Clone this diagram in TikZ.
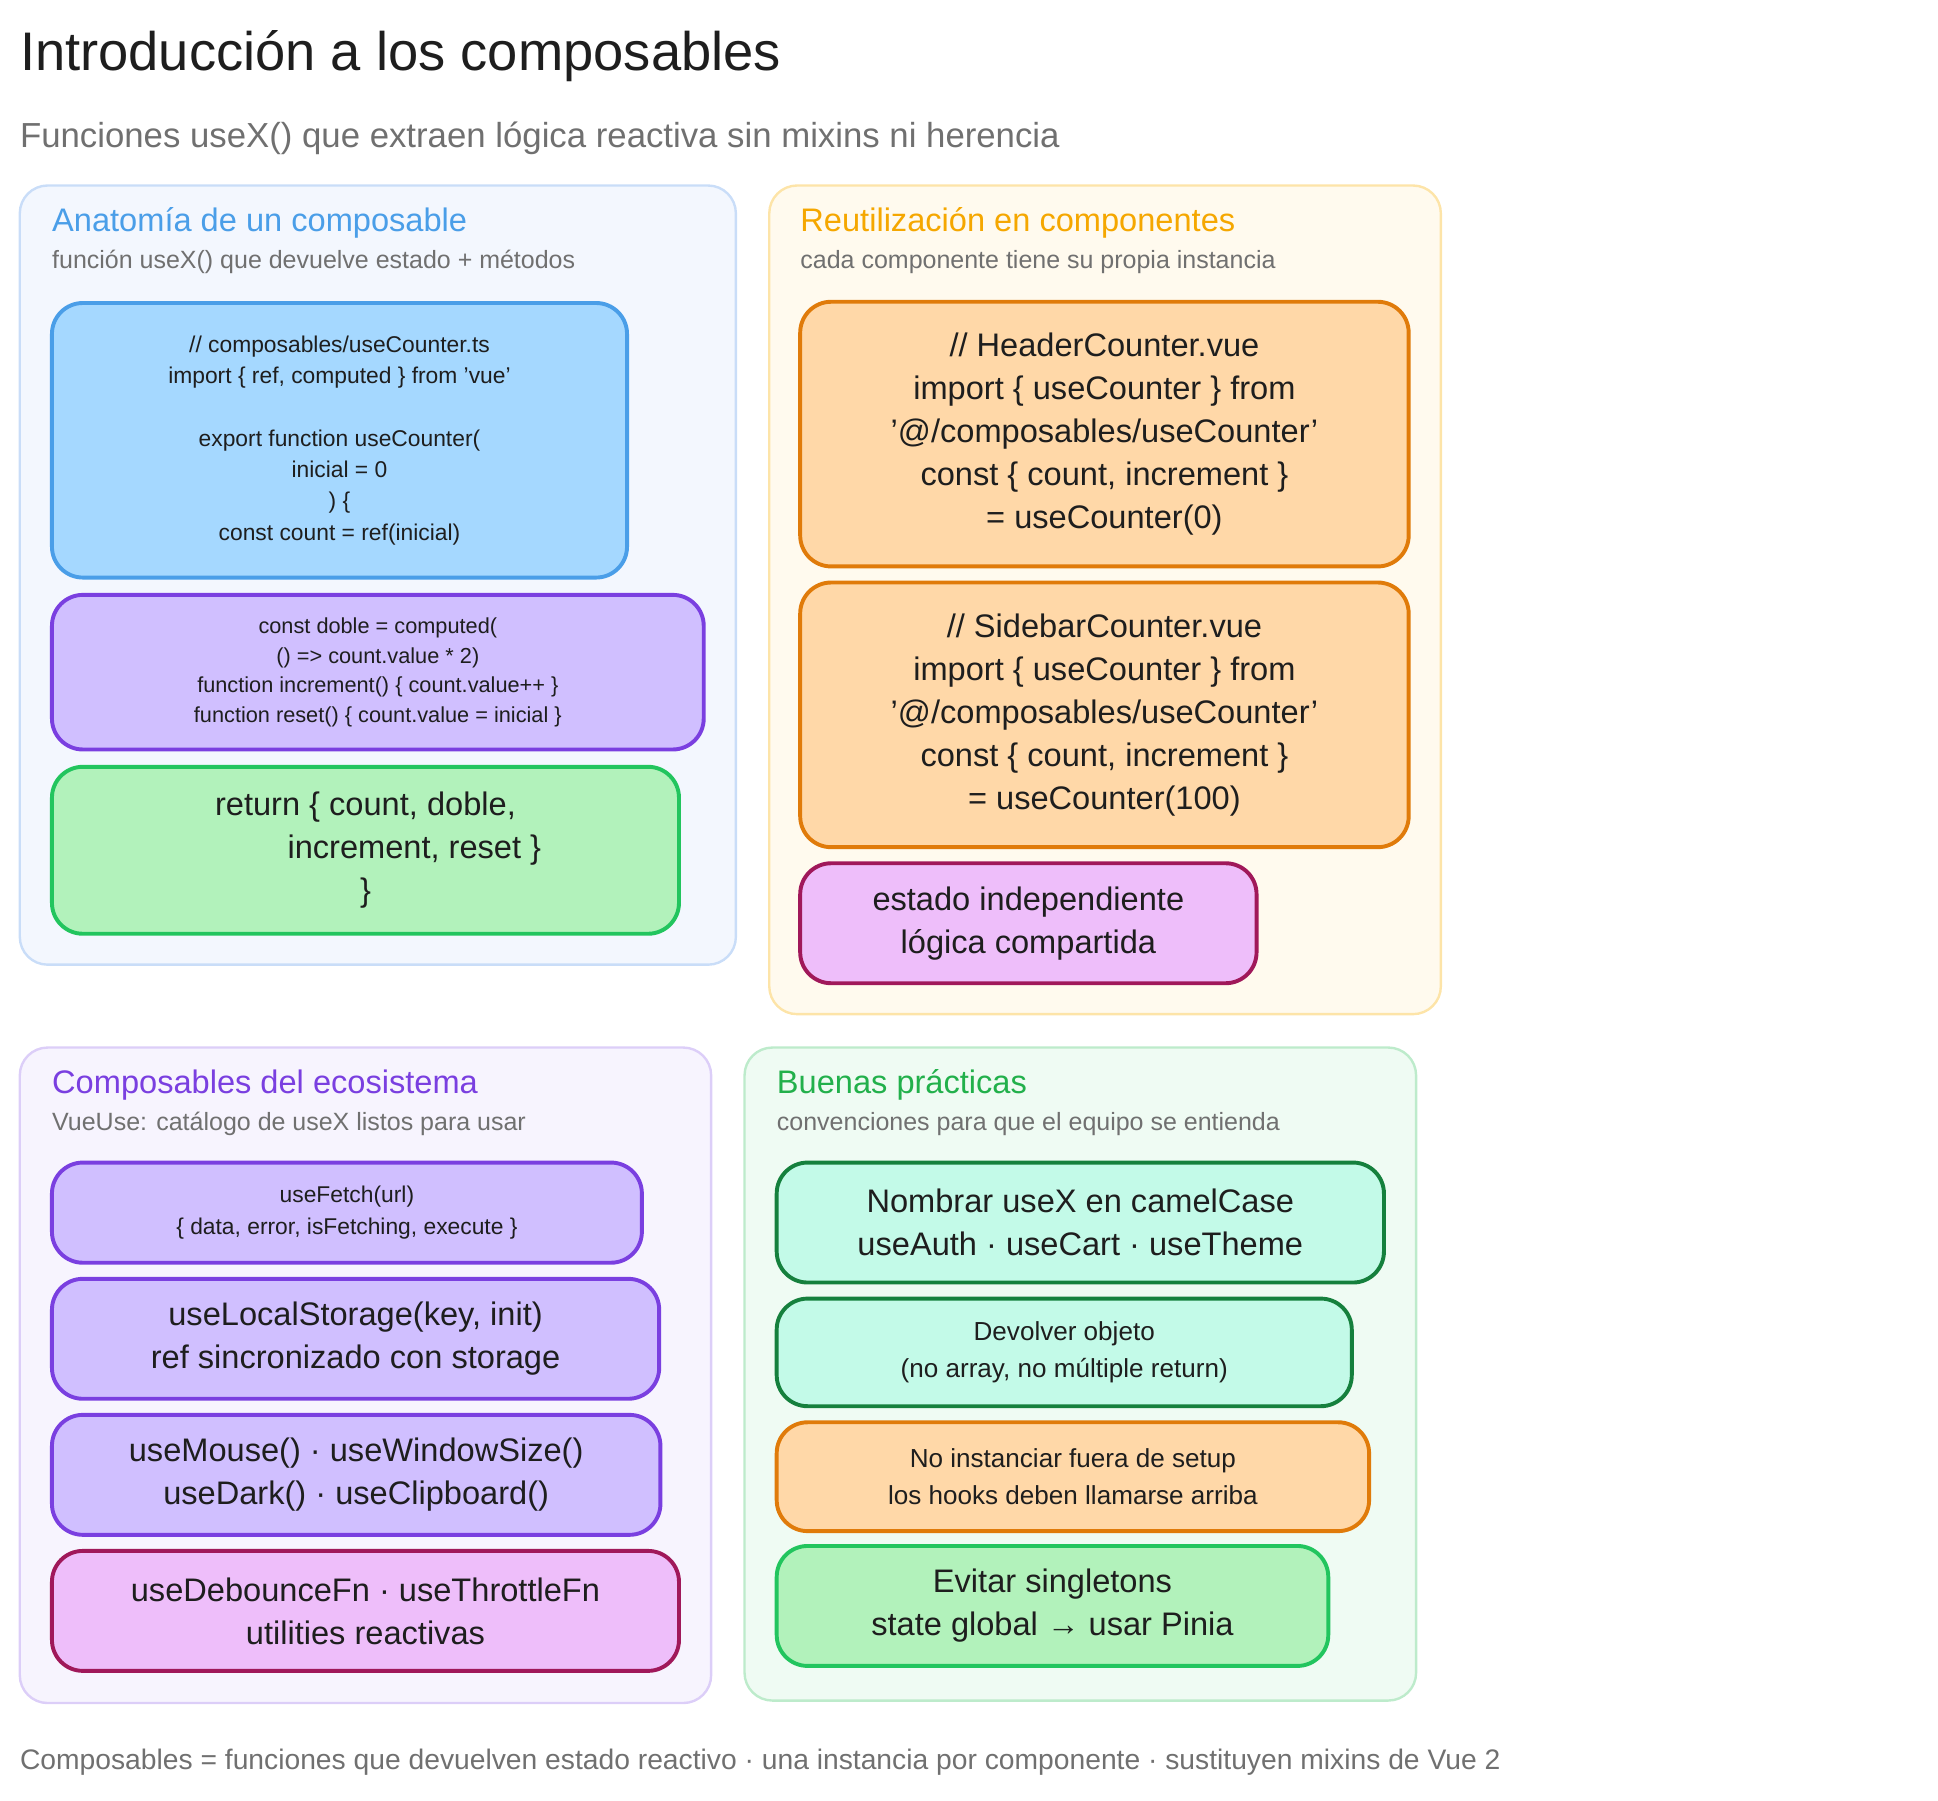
\documentclass[tikz,border=0pt]{standalone}
\usepackage{fontspec}
\setmainfont{Liberation Sans}
\usetikzlibrary{calc}
\definecolor{inkc}{HTML}{1E1E1E}
\definecolor{grayc}{HTML}{707070}
\definecolor{pblue}{HTML}{F3F7FE}\definecolor{pblueb}{HTML}{C9DDF8}
\definecolor{pamber}{HTML}{FFFAEE}\definecolor{pamberb}{HTML}{FDE4A8}
\definecolor{ppurp}{HTML}{F7F4FE}\definecolor{ppurpb}{HTML}{DCCEF8}
\definecolor{pgreen}{HTML}{EFFBF3}\definecolor{pgreenb}{HTML}{BDEBCB}
\definecolor{cblue}{HTML}{A5D8FF}\definecolor{cblueb}{HTML}{4A9EE8}
\definecolor{cpurp}{HTML}{D0BFFF}\definecolor{cpurpb}{HTML}{7A3FE0}
\definecolor{cgreen}{HTML}{B2F2BB}\definecolor{cgreenb}{HTML}{22C55E}
\definecolor{corange}{HTML}{FFD8A8}\definecolor{corangeb}{HTML}{E07B0A}
\definecolor{cpink}{HTML}{EEBEFA}\definecolor{cpinkb}{HTML}{A0185A}
\definecolor{cteal}{HTML}{C3FAE8}\definecolor{ctealb}{HTML}{15803D}
\definecolor{tamber}{HTML}{F5A700}\definecolor{tgreen}{HTML}{22B04B}
% box with a text node in its middle
\newcommand{\card}[8]{%
  \draw[#6] (#2,#3) rectangle (#4,#5);
  \node[cardtext, #7] (#1) at ($(#2,#3)!.5!(#4,#5)$) {#8};}
\begin{document}
\begin{tikzpicture}[x=0.02cm,y=-0.02cm,
  panel/.style={rounded corners=0.45cm, line width=1.1pt},
  boxc/.style={rounded corners=0.5cm, line width=1.8pt},
  cardtext/.style={align=center, text=inkc},
  big/.style={font=\fontsize{15}{19.8}\selectfont},
  mid/.style={font=\fontsize{12}{17}\selectfont},
  small/.style={font=\fontsize{10.5}{14.4}\selectfont},
  ptitle/.style={anchor=west, font=\fontsize{15}{18}\selectfont},
  psub/.style={anchor=west, text=grayc, font=\fontsize{11.5}{14}\selectfont}]
\useasboundingbox (0,0) rectangle (1567,1456);
\node[anchor=west, text=inkc, font=\fontsize{25}{30}\selectfont] (title) at (10,45) {Introducción a los composables};
\node[anchor=west, text=grayc, font=\fontsize{16}{19}\selectfont] (subtitle) at (10,112) {Funciones useX() que extraen lógica reactiva sin mixins ni herencia};

% panels
\draw[panel, fill=pblue, draw=pblueb] (16,150) rectangle (595,780);
\draw[panel, fill=pamber, draw=pamberb] (622,150) rectangle (1165,820);
\draw[panel, fill=ppurp, draw=ppurpb] (16,847) rectangle (575,1377);
\draw[panel, fill=pgreen, draw=pgreenb] (602,847) rectangle (1145,1375);

\node[ptitle, text=cblueb] (t1) at (36,180) {Anatomía de un composable};
\node[psub] (s1) at (36,212) {función useX() que devuelve estado + métodos};
\node[ptitle, text=tamber] (t2) at (641,180) {Reutilización en componentes};
\node[psub] (s2) at (641,212) {cada componente tiene su propia instancia};
\node[ptitle, text=cpurpb] (t3) at (36,877) {Composables del ecosistema};
\node[psub] (s3) at (36,909) {VueUse: catálogo de useX listos para usar};
\node[ptitle, text=tgreen] (t4) at (622,877) {Buenas prácticas};
\node[psub] (s4) at (622,909) {convenciones para que el equipo se entienda};

% anatomy
\card{anat}{42}{245}{507}{467}{boxc, fill=cblue, draw=cblueb}{small}{
  // composables/useCounter.ts\\ import \{ ref, computed \} from 'vue'\\[14.4pt]
  export function useCounter(\\ inicial = 0\\ ) \{\\ const count = ref(inicial)}
\card{deriv}{42}{481}{569}{606}{boxc, fill=cpurp, draw=cpurpb}{font=\fontsize{10}{13.6}\selectfont}{
  const doble = computed(\\ () => count.value * 2)\\ function increment() \{ count.value++ \}\\
  function reset() \{ count.value = inicial \}}
\card{ret}{42}{620}{549}{755}{boxc, fill=cgreen, draw=cgreenb}{big}{
  return \{ count, doble,\\ \hspace*{3em}increment, reset \}\\ \}}

% reuse
\card{header}{647}{244}{1139}{458}{boxc, fill=corange, draw=corangeb}{big}{
  // HeaderCounter.vue\\ import \{ useCounter \} from\\ '@/composables/useCounter'\\
  const \{ count, increment \}\\ = useCounter(0)}
\card{sidebar}{647}{471}{1139}{685}{boxc, fill=corange, draw=corangeb}{big}{
  // SidebarCounter.vue\\ import \{ useCounter \} from\\ '@/composables/useCounter'\\
  const \{ count, increment \}\\ = useCounter(100)}
\card{indep}{647}{698}{1016}{795}{boxc, fill=cpink, draw=cpinkb}{big}{
  estado independiente\\ lógica compartida}

% ecosystem
\card{fetch}{42}{940}{519}{1021}{boxc, fill=cpurp, draw=cpurpb}{font=\fontsize{10.5}{15}\selectfont}{
  useFetch(url)\\ \{ data, error, isFetching, execute \}}
\card{storage}{42}{1034}{533}{1131}{boxc, fill=cpurp, draw=cpurpb}{big}{
  useLocalStorage(key, init)\\ ref sincronizado con storage}
\card{mouse}{42}{1144}{534}{1241}{boxc, fill=cpurp, draw=cpurpb}{big}{
  useMouse() · useWindowSize()\\ useDark() · useClipboard()}
\card{debounce}{42}{1254}{549}{1351}{boxc, fill=cpink, draw=cpinkb}{big}{
  useDebounceFn · useThrottleFn\\ utilities reactivas}

% practices
\card{naming}{628}{940}{1119}{1037}{boxc, fill=cteal, draw=ctealb}{big}{
  Nombrar useX en camelCase\\ useAuth · useCart · useTheme}
\card{object}{628}{1050}{1093}{1137}{boxc, fill=cteal, draw=ctealb}{mid}{
  Devolver objeto\\ (no array, no múltiple return)}
\card{setup}{628}{1150}{1107}{1238}{boxc, fill=corange, draw=corangeb}{mid}{
  No instanciar fuera de setup\\ los hooks deben llamarse arriba}
\card{single}{628}{1250}{1074}{1347}{boxc, fill=cgreen, draw=cgreenb}{big}{
  Evitar singletons\\ state global → usar Pinia}

\node[anchor=west, text=grayc, font=\fontsize{13}{16}\selectfont] (footer) at (10,1425)
  {Composables = funciones que devuelven estado reactivo · una instancia por componente · sustituyen mixins de Vue 2};
\end{tikzpicture}
\end{document}
